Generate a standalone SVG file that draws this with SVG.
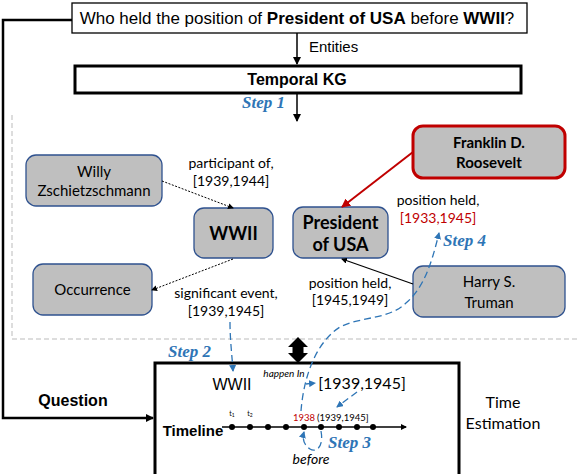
<svg xmlns="http://www.w3.org/2000/svg" width="582" height="474" viewBox="0 0 582 474">
<style>
.arial{font-family:"Liberation Sans",Arial,sans-serif;fill:#000}
.cal{font-family:Lato,"Noto Sans",sans-serif;fill:#000}
.step{font-family:"Liberation Serif","Times New Roman",serif;font-weight:bold;font-style:italic;fill:#2e75b6;font-size:17px}
.node{fill:#bfbfbf;stroke:#2f528f;stroke-width:1.3}
.blk{stroke:#000;fill:none}
.bd{stroke:#2e75b6;fill:none;stroke-width:1.3;stroke-dasharray:7 4}
.dot{fill:#000}
</style>
<defs>
<marker id="ah" markerWidth="8" markerHeight="8" refX="7" refY="4" orient="auto" markerUnits="userSpaceOnUse"><path d="M0,0 L8,4 L0,8 z" fill="#000"/></marker>
<marker id="ahs" markerWidth="6" markerHeight="6" refX="5" refY="3" orient="auto" markerUnits="userSpaceOnUse"><path d="M0,0 L6,3 L0,6 z" fill="#000"/></marker>
<marker id="ahr" markerWidth="9" markerHeight="9" refX="8" refY="4.5" orient="auto" markerUnits="userSpaceOnUse"><path d="M0,0 L9,4.5 L0,9 z" fill="#c00000"/></marker>
<marker id="ahb" markerWidth="7" markerHeight="7" refX="6" refY="3.5" orient="auto" markerUnits="userSpaceOnUse"><path d="M0,0 L7,3.5 L0,7 z" fill="#2e75b6"/></marker>
</defs>

<!-- dashed KG region -->
<path d="M12,115 V339 H578" fill="none" stroke="#bbb" stroke-width="1" stroke-dasharray="5 3"/>

<g id="question">
<rect x="72" y="3" width="455" height="30" fill="#fff" stroke="#000" stroke-width="1.3"/>
<text class="arial" x="297" y="24" font-size="17" text-anchor="middle">Who held the position of <tspan font-weight="bold">President of USA</tspan> before <tspan font-weight="bold">WWII</tspan>?</text>
</g>

<g id="temporal-kg">
<rect x="75" y="66" width="446" height="27" fill="#fff" stroke="#000" stroke-width="3"/>
<text class="arial" x="297" y="85" font-size="16" font-weight="bold" text-anchor="middle">Temporal KG</text>
</g>

<g id="willy">
<rect class="node" x="26" y="155" width="136" height="51" rx="10"/>
<text class="cal" x="94" y="177" font-size="15" text-anchor="middle">Willy</text>
<text class="cal" x="94" y="196" font-size="15" text-anchor="middle">Zschietzschmann</text>
</g>

<g id="wwii">
<rect class="node" x="194" y="208" width="79" height="50" rx="10"/>
<text class="cal" x="233.5" y="240" font-size="18" font-weight="bold" text-anchor="middle">WWII</text>
</g>

<g id="occurrence">
<rect class="node" x="33" y="264" width="119" height="51" rx="10"/>
<text class="cal" x="92.5" y="295" font-size="15" text-anchor="middle">Occurrence</text>
</g>

<g id="president">
<rect class="node" x="293" y="207" width="95" height="51" rx="10"/>
<text class="cal" x="340.5" y="229" font-size="18" font-weight="bold" text-anchor="middle">President</text>
<text class="cal" x="340.5" y="251" font-size="18" font-weight="bold" text-anchor="middle">of USA</text>
</g>

<g id="roosevelt">
<rect x="413" y="126" width="152" height="52" rx="10" fill="#bfbfbf" stroke="#c00000" stroke-width="3"/>
<text class="cal" x="489" y="148" font-size="15" font-weight="bold" text-anchor="middle">Franklin D.</text>
<text class="cal" x="489" y="168" font-size="15" font-weight="bold" text-anchor="middle">Roosevelt</text>
</g>

<g id="truman">
<rect class="node" x="413" y="266" width="152" height="51" rx="10"/>
<text class="cal" x="489" y="287" font-size="15" text-anchor="middle">Harry S.</text>
<text class="cal" x="489" y="308" font-size="15" text-anchor="middle">Truman</text>
</g>

<g id="time-estimation">
<rect x="155" y="363" width="304" height="130" fill="none" stroke="#000" stroke-width="3"/>
<text class="arial" x="193" y="436" font-size="15" font-weight="bold" text-anchor="middle">Timeline</text>
<text class="arial" x="232" y="390" font-size="16" text-anchor="middle">WWII</text>
<text class="cal" x="284" y="377" font-size="10" font-style="italic" text-anchor="middle">happen In</text>
<text class="cal" x="362" y="389" font-size="16" text-anchor="middle">[1939,1945]</text>
<text class="cal" x="232" y="416" font-size="7" text-anchor="middle">t<tspan font-size="5" dy="1">1</tspan></text>
<text class="cal" x="250" y="416" font-size="7" text-anchor="middle">t<tspan font-size="5" dy="1">2</tspan></text>
<text class="cal" x="293" y="421" font-size="9.5" fill="#c00000" style="fill:#c00000">1938</text>
<text class="cal" x="317" y="421" font-size="9.5">(1939,1945]</text>
<text class="cal" x="311" y="464" font-size="14" font-style="italic" text-anchor="middle">before</text>
<g>
<circle class="dot" cx="232" cy="427" r="3"/><circle class="dot" cx="250" cy="427" r="3"/><circle class="dot" cx="268" cy="427" r="3"/><circle class="dot" cx="286" cy="427" r="3"/><circle class="dot" cx="304" cy="427" r="3"/><circle class="dot" cx="321" cy="427" r="3"/><circle class="dot" cx="339" cy="427" r="3"/><circle class="dot" cx="357" cy="427" r="3"/><circle class="dot" cx="373" cy="427" r="3"/>
</g>
</g>

<g id="labels">
<text class="arial" x="309" y="52" font-size="15">Entities</text>
<text class="step" x="242" y="108">Step 1</text>
<text class="step" x="168" y="357">Step 2</text>
<text class="step" x="328" y="448">Step 3</text>
<text class="step" x="443" y="246">Step 4</text>
<text class="arial" x="73" y="406" font-size="16" font-weight="bold" text-anchor="middle">Question</text>
<text class="cal" x="503" y="408" font-size="16" text-anchor="middle">Time</text>
<text class="cal" x="503" y="429" font-size="16" text-anchor="middle">Estimation</text>
<text class="cal" x="231" y="168" font-size="14" text-anchor="middle">participant of,</text>
<text class="cal" x="231" y="186" font-size="14" text-anchor="middle">[1939,1944]</text>
<text class="cal" x="226" y="298" font-size="14" text-anchor="middle">significant event,</text>
<text class="cal" x="226" y="316" font-size="14" text-anchor="middle">[1939,1945]</text>
<text class="cal" x="438" y="205" font-size="14" text-anchor="middle">position held,</text>
<text class="cal" x="438" y="223" font-size="14" fill="#c00000" style="fill:#c00000" text-anchor="middle">[1933,1945]</text>
<text class="cal" x="350" y="288" font-size="14" text-anchor="middle">position held,</text>
<text class="cal" x="350" y="305" font-size="14" text-anchor="middle">[1945,1949]</text>
</g>

<g id="connectors">
<path class="blk" d="M72,20 H3 V418 H153" stroke-width="2.5" marker-end="url(#ah)"/>
<path class="blk" d="M297,33 V64" stroke-width="1.5" marker-end="url(#ah)"/>
<path class="blk" d="M297,93 V121" stroke-width="1.5" marker-end="url(#ah)"/>
<path class="blk" d="M162,181 L233,208" stroke-width="1" stroke-dasharray="2 1.5" marker-end="url(#ahs)"/>
<path class="blk" d="M233,259 L152,290" stroke-width="1" stroke-dasharray="2 1.5" marker-end="url(#ahs)"/>
<path d="M413,152 L342,207" fill="none" stroke="#c00000" stroke-width="2" marker-end="url(#ahr)"/>
<path class="blk" d="M413,284 L342,259" stroke-width="1.2" marker-end="url(#ahs)"/>
<path d="M298,337 L308,347 H303.5 V353 H308 L298,363 L288,353 H292.5 V347 H288 Z" fill="#000"/>
<path class="blk" d="M222,427 H406" stroke-width="1.3" marker-end="url(#ahs)"/>
<path class="bd" d="M230,322 C230,340 232,355 233,371" marker-end="url(#ahb)"/>
<path class="bd" d="M301,411 C303,385 312,345 340,327 C362,316 388,320 406,303 C424,288 432,262 439,233" marker-end="url(#ahb)"/>
<path class="bd" d="M306,384 L315,383" stroke-dasharray="none" marker-end="url(#ahb)"/>
<path class="bd" d="M357,392 L337,407" stroke-dasharray="3 2" marker-end="url(#ahb)"/>
<path class="bd" d="M321,431 C324,447 316,453 310,449 C304,445 302,439 304,432" stroke-dasharray="none" marker-end="url(#ahb)"/>
</g>
</svg>
